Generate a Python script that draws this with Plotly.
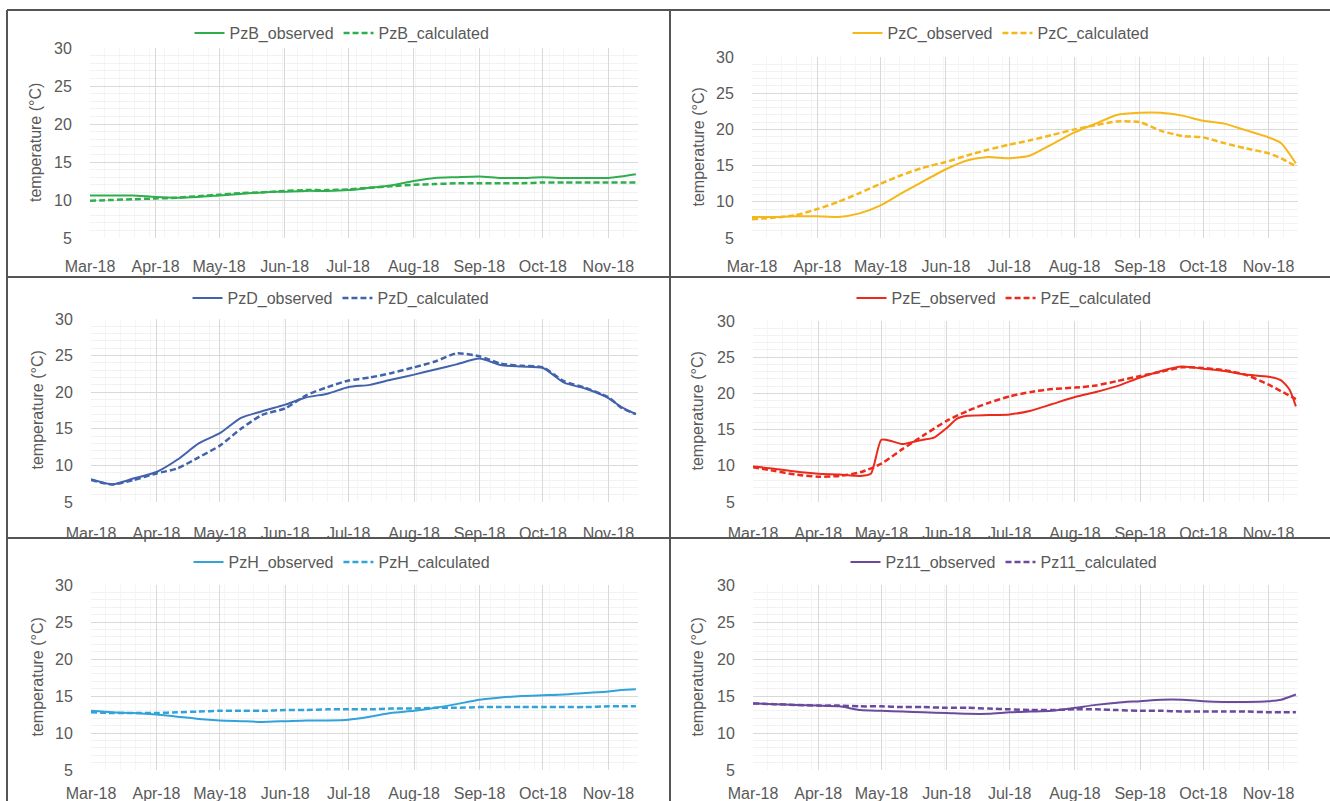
import plotly.graph_objects as go

W, H = 1330, 801

dates = ["2018-03-01", "2018-03-11", "2018-03-21", "2018-04-01", "2018-04-11", "2018-04-21",
         "2018-05-01", "2018-05-11", "2018-05-21", "2018-06-01", "2018-06-11", "2018-06-21",
         "2018-07-01", "2018-07-11", "2018-07-21", "2018-08-01", "2018-08-11", "2018-08-21",
         "2018-09-01", "2018-09-11", "2018-09-21", "2018-10-01", "2018-10-11", "2018-10-21",
         "2018-11-01", "2018-11-07", "2018-11-14"]

pzb_obs = [10.6, 10.6, 10.6, 10.4, 10.3, 10.4, 10.6, 10.8, 11.0, 11.1, 11.2, 11.2, 11.3, 11.6,
           11.9, 12.5, 12.9, 13.0, 13.1, 12.9, 12.9, 13.0, 12.9, 12.9, 12.9, 13.1, 13.4]
pzb_calc = [9.9, 10.0, 10.1, 10.2, 10.3, 10.5, 10.7, 10.9, 11.0, 11.2, 11.3, 11.3, 11.4, 11.6,
            11.8, 12.0, 12.1, 12.2, 12.2, 12.2, 12.2, 12.3, 12.3, 12.3, 12.3, 12.3, 12.3]

pzc_obs = [7.9, 7.9, 8.0, 8.0, 7.9, 8.4, 9.5, 11.2, 12.8, 14.5, 15.7, 16.2, 16.0, 16.4,
           17.9, 19.6, 20.8, 22.0, 22.3, 22.3, 21.9, 21.2, 20.8, 19.9, 18.9, 18.1, 15.3]
pzc_calc = [7.6, 7.8, 8.1, 9.0, 10.0, 11.2, 12.5, 13.7, 14.7, 15.5, 16.4, 17.2, 17.9, 18.5,
            19.2, 20.0, 20.6, 21.1, 21.0, 19.8, 19.1, 18.9, 18.1, 17.4, 16.7, 16.0, 14.9]

pzd_obs = [8.1, 7.4, 8.2, 9.1, 10.8, 13.0, 14.4, 16.5, 17.4, 18.3, 19.3, 19.8, 20.7, 21.0,
           21.7, 22.4, 23.1, 23.8, 24.6, 23.7, 23.5, 23.3, 21.3, 20.5, 19.2, 18.0, 17.0]
pzd_calc = [8.0, 7.4, 8.0, 8.9, 9.6, 11.1, 12.7, 15.0, 16.9, 17.8, 19.6, 20.7, 21.6, 22.0,
            22.6, 23.4, 24.2, 25.3, 24.9, 23.9, 23.6, 23.4, 21.5, 20.6, 19.3, 17.9, 17.0]

pze_obs_dates = ["2018-03-01", "2018-03-11", "2018-03-21", "2018-04-01", "2018-04-11", "2018-04-21",
                 "2018-04-26", "2018-05-01", "2018-05-06", "2018-05-11", "2018-05-16", "2018-05-21",
                 "2018-05-26", "2018-06-01", "2018-06-06", "2018-06-11", "2018-06-21", "2018-07-01",
                 "2018-07-11", "2018-07-21", "2018-08-01", "2018-08-11", "2018-08-21", "2018-09-01",
                 "2018-09-11", "2018-09-21", "2018-10-01", "2018-10-11", "2018-10-21", "2018-11-01",
                 "2018-11-07", "2018-11-11", "2018-11-14"]
pze_obs = [9.9, 9.6, 9.2, 8.9, 8.8, 8.6, 8.9, 13.6, 13.4, 13.0, 13.3, 13.6, 13.9, 15.2, 16.5,
           16.9, 17.0, 17.1, 17.6, 18.5, 19.5, 20.2, 21.0, 22.2, 23.1, 23.7, 23.4, 23.1, 22.6,
           22.3, 21.8, 20.5, 18.2]
pze_calc = [9.8, 9.3, 8.8, 8.5, 8.6, 9.1, 10.3, 12.3, 14.2, 16.2, 17.6, 18.7, 19.6, 20.2,
            20.6, 20.8, 21.1, 21.7, 22.4, 23.0, 23.6, 23.5, 23.2, 22.6, 21.2, 20.3, 19.2]

pzh_obs = [13.0, 12.8, 12.7, 12.5, 12.2, 11.9, 11.7, 11.6, 11.5, 11.6, 11.7, 11.7, 11.8, 12.2,
           12.7, 13.0, 13.4, 13.9, 14.5, 14.8, 15.0, 15.1, 15.2, 15.4, 15.6, 15.8, 15.9]
pzh_calc = [12.8, 12.7, 12.7, 12.7, 12.8, 12.9, 13.0, 13.0, 13.0, 13.1, 13.1, 13.2, 13.2, 13.2,
            13.3, 13.3, 13.4, 13.4, 13.5, 13.5, 13.5, 13.5, 13.5, 13.5, 13.6, 13.6, 13.6]

pz11_obs = [14.0, 13.9, 13.8, 13.7, 13.6, 13.1, 13.0, 12.9, 12.8, 12.7, 12.6, 12.6, 12.8, 12.9,
            13.0, 13.4, 13.8, 14.1, 14.3, 14.5, 14.5, 14.3, 14.2, 14.2, 14.3, 14.5, 15.2]
pz11_calc = [14.0, 13.9, 13.8, 13.7, 13.7, 13.6, 13.6, 13.5, 13.5, 13.4, 13.4, 13.3, 13.2, 13.1,
             13.1, 13.2, 13.2, 13.1, 13.0, 13.0, 12.9, 12.9, 12.9, 12.9, 12.8, 12.8, 12.8]

names = ["PzB", "PzC", "PzD", "PzE", "PzH", "Pz11"]
colors = ["#2fae4e", "#f5b719", "#4262ac", "#ec2a1c", "#31a3da", "#6a4a9c"]
obs_series = [(dates, pzb_obs), (dates, pzc_obs), (dates, pzd_obs), (pze_obs_dates, pze_obs),
              (dates, pzh_obs), (dates, pz11_obs)]
calc_series = [pzb_calc, pzc_calc, pzd_calc, pze_calc, pzh_calc, pz11_calc]

y_ticks = [5, 10, 15, 20, 25, 30]
x_range = ["2018-03-01", "2018-11-15"]

# panel geometry in pixels: left, right, top, bottom, legend center x, legend y, title x, x-label gap
panels = [
    (90, 638, 48, 238, 342, 33, 35, 14),
    (752, 1298, 57, 238, 1001, 33, 698, 14),
    (91, 638, 319, 502, 341, 298, 37, 17),
    (753, 1298, 321, 502, 1004, 298, 697, 17),
    (91, 638, 585, 770, 342, 562, 37, 9),
    (753, 1298, 585, 770, 1004, 562, 697, 9),
]

font_family = "Liberation Sans, Arial, sans-serif"
txt_col = "#595959"

fig = go.Figure()
layout = dict(width=W, height=H, margin=dict(l=0, r=0, t=0, b=0, pad=0, autoexpand=False),
              autosize=False, paper_bgcolor="white", plot_bgcolor="white",
              font=dict(family=font_family, size=16, color=txt_col))
annotations = []
shapes = []

for i, (nm, col) in enumerate(zip(names, colors)):
    l, r, t, b, lx, ly, tx, xgap = panels[i]
    sfx = "" if i == 0 else str(i + 1)
    xa, ya = "x" + sfx, "y" + sfx
    leg = "legend" + sfx
    od, ov = obs_series[i]
    fig.add_trace(go.Scatter(x=od, y=ov, mode="lines", name=nm + "_observed",
                             line=dict(color=col, width=2, shape="spline", smoothing=0.6),
                             xaxis=xa, yaxis=ya, legend=leg))
    fig.add_trace(go.Scatter(x=dates, y=calc_series[i], mode="lines", name=nm + "_calculated",
                             line=dict(color=col, width=2.5, dash="6px,3px", shape="spline", smoothing=0.6),
                             xaxis=xa, yaxis=ya, legend=leg))
    layout["xaxis" + sfx] = dict(
        domain=[l / W, r / W], anchor=ya, range=x_range, type="date", automargin=False,
        tick0="2018-03-01", dtick="M1", tickformat="%b-%y",
        showgrid=True, gridcolor="#d9d9d9", gridwidth=1,
        minor=dict(dtick=7 * 86400000, showgrid=True, gridcolor="#f5f5f5", tick0="2018-03-01"),
        ticks="outside", ticklen=xgap, tickcolor="rgba(0,0,0,0)",
        showline=False, zeroline=False, fixedrange=True,
        tickfont=dict(size=16, color=txt_col, family=font_family))
    layout["yaxis" + sfx] = dict(
        domain=[1 - b / H, 1 - t / H], anchor=xa, range=[5, 30], automargin=False,
        tickvals=y_ticks, showgrid=True, gridcolor="#d9d9d9", gridwidth=1,
        minor=dict(dtick=1, showgrid=True, gridcolor="#f2f2f2"),
        ticks="outside", ticklen=14, tickcolor="rgba(0,0,0,0)",
        showline=False, zeroline=False, fixedrange=True,
        tickfont=dict(size=16, color=txt_col, family=font_family))
    layout[leg] = dict(orientation="h", x=lx / W, xanchor="center", y=1 - ly / H, yanchor="middle",
                       bgcolor="rgba(0,0,0,0)", itemwidth=30, tracegroupgap=0,
                       font=dict(size=16, color=txt_col, family=font_family))
    annotations.append(dict(text="temperature (°C)", x=tx / W, y=1 - (t + b) / 2 / H,
                            xref="paper", yref="paper", showarrow=False, textangle=-90,
                            xanchor="center", yanchor="middle",
                            font=dict(size=16, color=txt_col, family=font_family)))

sep = dict(type="line", xref="paper", yref="paper", line=dict(color="#555555", width=2))
shapes.append(dict(sep, x0=7 / W, x1=1, y0=1 - 10 / H, y1=1 - 10 / H))
shapes.append(dict(sep, x0=7 / W, x1=7 / W, y0=1 - 10 / H, y1=0))
shapes.append(dict(sep, x0=670 / W, x1=670 / W, y0=1 - 10 / H, y1=0))
shapes.append(dict(sep, x0=7 / W, x1=1, y0=1 - 277 / H, y1=1 - 277 / H))
shapes.append(dict(sep, x0=7 / W, x1=1, y0=1 - 538 / H, y1=1 - 538 / H))

layout["annotations"] = annotations
layout["shapes"] = shapes
layout["showlegend"] = True
fig.update_layout(**layout)

fig.write_html("out.html", config={"displayModeBar": False},
               post_script="document.body.style.margin='0';document.body.style.padding='0';"
                           "document.body.style.overflow='hidden';")
